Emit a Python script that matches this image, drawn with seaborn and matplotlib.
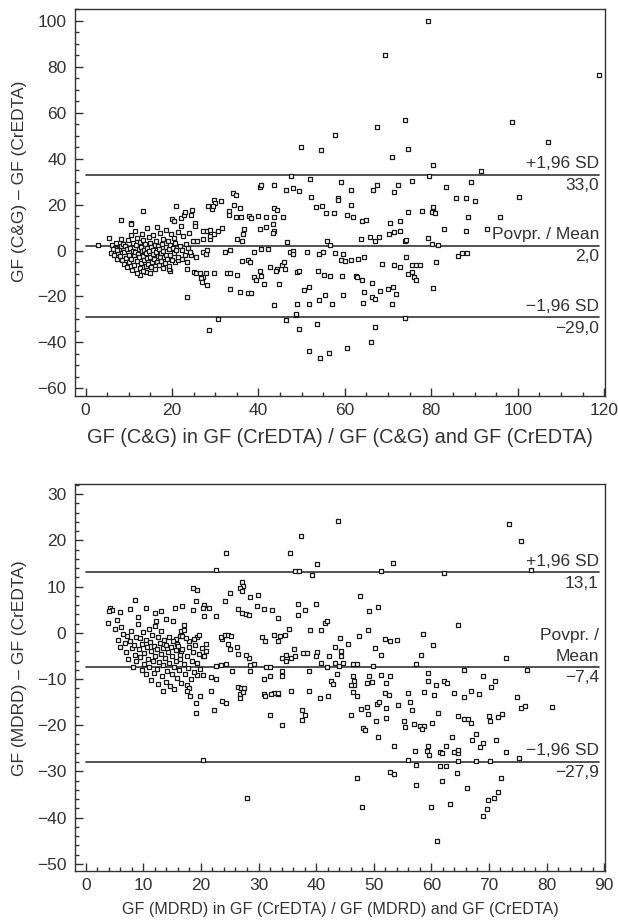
import matplotlib
matplotlib.use("Agg")
import matplotlib.pyplot as plt
from matplotlib.ticker import MultipleLocator
import seaborn as sns
import pandas as pd

# ---------------- data: panel 1 (C&G vs CrEDTA) ----------------
cg_mean = [
    79.2, 69.3, 118.7, 67.5, 73.8, 57.7, 98.6, 107.0, 49.9, 54.5, 70.8, 74.5, 80.3, 91.5, 47.6, 79.4,
    52.0, 59.1, 75.6, 89.3, 40.3, 40.5, 43.6, 46.3, 47.9, 49.5, 61.4, 66.4, 67.5, 71.3, 72.4, 83.3,
    85.7, 88.1, 90.1, 100.3, 52.2, 58.3, 58.3, 34.2, 34.8, 29.8, 29.9, 31.3, 28.4, 29.2, 29.6, 20.9,
    13.3, 34.3, 35.7, 53.4, 54.8, 55.6, 57.5, 61.4, 60.4, 61.8, 63.9, 65.0, 74.7, 77.9, 80.4, 80.3,
    80.2, 80.8, 88.6, 95.9, 70.4, 72.7, 45.7, 43.5, 44.2, 43.6, 41.7, 39.9, 37.8, 38.3, 33.1, 33.3,
    34.9, 36.0, 8.2, 10.4, 20.0, 20.4, 22.0, 22.8, 23.1, 24.4, 24.7, 25.4,
    2.9, 5.5, 6.1, 6.9, 8.2, 10.5, 7.3, 12.6, 14.0, 19.5, 19.2, 20.7, 21.3, 22.4, 23.4, 23.5, 23.4,
    25.0, 25.5, 26.4, 27.8, 27.2, 28.2, 26.6, 26.9, 24.5, 25.5, 27.1, 27.8, 28.0,
    24.9, 25.8, 27.1, 28.7, 28.9, 29.8, 25.3, 27.1, 28.0, 28.9, 30.7, 31.5,
    28.6, 30.7, 29.8, 32.7, 33.4, 35.0, 33.4, 35.7, 37.6, 38.2,
    32.3, 33.4, 35.1, 36.2, 36.5, 36.6, 36.2, 37.6, 38.0,
    38.9, 39.4, 41.2, 40.7, 40.3, 42.6, 44.4, 44.0,
    38.9, 40.7, 42.1, 40.3, 41.7, 43.3, 43.5, 43.3,
    43.6, 44.8, 45.4, 45.8, 46.2, 46.7, 47.2, 47.9, 48.1,
    46.3, 48.6, 48.6, 49.0, 49.5, 49.5, 49.0,
    51.6, 54.3, 56.3, 53.6, 60.5, 66.0, 66.9,
    51.8, 53.9, 55.4, 57.0, 50.5, 51.6,
    59.5, 64.3, 64.4, 66.2, 66.9, 66.2, 68.2, 70.0, 71.2, 71.9, 71.0, 73.8,
    51.3, 54.0, 54.9, 55.8, 56.6, 57.7, 59.6,
    53.7, 55.1, 56.5, 59.3, 62.5, 62.9, 63.9,
    59.1, 60.0, 61.4, 63.1, 64.4,
    63.8, 65.9, 66.9, 67.8, 70.1, 71.4, 72.8, 73.8, 74.2, 74.2,
    68.7, 71.4, 72.8, 75.6, 76.5, 77.4, 74.7, 76.1, 75.6, 76.5,
    80.3, 79.2, 80.1, 81.5, 81.1, 82.9, 88.0, 93.0, 86.1, 87.0, 88.2,
    7.5, 7.8, 8.0, 8.3, 8.5, 8.7, 8.9, 9.0, 9.2, 9.4, 9.5, 9.7, 9.8, 10.0, 10.1, 10.3, 10.4, 10.6,
    10.7, 10.9, 11.0, 11.1, 11.3, 11.4, 11.5, 11.7, 11.8, 11.9, 12.0, 12.1, 12.3, 12.4, 12.5, 12.6,
    12.8, 12.9, 13.0, 13.1, 13.2, 13.3, 13.4, 13.5, 13.6, 13.8, 13.9, 14.0, 14.1, 14.2, 14.3, 14.5,
    14.6, 14.7, 14.8, 14.9, 15.0, 15.1, 15.2, 15.4, 15.5, 15.6, 15.7, 15.8, 16.0, 16.1, 16.2, 16.3,
    16.5, 16.6, 16.7, 16.8, 16.9, 17.0, 17.2, 17.3, 17.4, 17.5, 17.7, 17.8, 17.9, 18.0, 18.2, 18.3,
    18.5, 18.6, 18.7, 18.9, 19.0, 19.2, 19.3, 19.5, 19.6, 19.8, 20.0, 20.2, 20.4, 20.5, 20.8, 21.0,
    21.3, 21.5, 21.8, 22.0, 22.3, 22.6, 23.0, 23.2, 23.6, 24.0, 24.2,
    5.9, 6.3, 6.6, 7.0, 7.2,
]
cg_diff = [
    100.0, 85.2, 76.4, 53.9, 56.7, 50.4, 56.1, 47.1, 44.9, 43.8, 40.7, 44.3, 37.4, 34.8, 32.5, 32.5,
    31.2, 29.7, 30.4, 29.7, 27.5, 28.3, 28.3, 26.4, 27.2, 25.8, 26.4, 26.4, 28.3, 25.5, 28.3, 27.5,
    22.8, 23.0, 21.6, 23.5, 23.2, 23.0, 22.2, 25.2, 24.3, 22.2, 20.7, 21.7, 19.3, 18.2, 19.3, 19.3,
    17.4, 19.6, 18.6, 18.8, 19.4, 16.4, 16.4, 20.0, 15.5, 14.8, 12.9, 13.2, 16.7, 17.0, 19.1, 17.4,
    16.7, 16.4, 14.8, 14.8, 12.0, 12.8, 14.5, 18.6, 17.7, 14.5, 14.5, 15.2, 15.2, 14.1, 17.0, 15.3,
    14.8, 14.5, 13.5, 12.0, 13.8, 12.9, 14.2, 15.6, 16.6, 15.6, 17.7, 12.0,
    2.2, 5.4, 2.2, 1.2, 5.1, 11.6, -3.6, -10.6, -9.4, -9.1, -8.0, -5.0, -4.0, -3.9, -5.0, -8.0, -20.2,
    -9.5, -9.8, -9.7, -9.8, -11.7, -15.0, -12.0, -13.8, -2.0, -2.6, -0.7, -1.4, 0.3,
    4.3, 4.3, 5.1, 4.9, 6.5, 7.2, 10.8, 8.7, 8.4, 9.0, 8.7, 10.0,
    -34.7, -29.9, -9.7, -9.8, -9.8, -10.8, -16.6, -18.0, -18.5, -18.5,
    -0.7, 0.3, 5.1, 4.3, 7.2, 9.4, -4.6, -4.0, -5.0,
    -11.6, -13.0, -14.5, -11.0, -8.7, -7.2, -7.9, -9.1,
    -0.7, 0.7, 0.7, 9.4, 10.1, 11.6, 8.7, 7.5,
    -23.9, -14.5, -6.5, -5.0, -8.0, 3.6, -0.7, -0.3, -1.5,
    -30.4, -28.2, -27.5, -9.4, -8.7, -34.3, -23.4,
    -43.7, -46.6, -44.4, -32.1, -42.2, -40.0, -33.3,
    -23.4, -21.7, -19.5, -23.1, -17.0, -15.9,
    -19.5, -22.8, -18.0, -20.2, -21.2, -14.1, -17.6, -16.9, -15.9, -18.9, -23.1, -29.2,
    -0.7, -1.5, -0.7, 4.3, 2.2, -1.2, -1.5,
    -8.7, -10.6, -10.9, -10.9, -10.9, -11.6, -13.0,
    -4.0, -4.6, -4.3, -3.6, -2.9,
    5.1, 5.8, 4.3, 6.1, 7.2, 7.9, 8.7, 4.3, 4.6, -2.6,
    -5.8, -6.5, -7.2, -6.5, -6.5, -6.5, -10.1, -11.6, -9.4, -13.0,
    -16.3, 5.5, 2.9, 2.2, -5.0, 9.4, 8.7, 9.4, -2.2, -1.2, -1.0,
    -1.0, 0.5, -2.5, 1.8, -4.0, 3.0, -0.5, -6.0, 2.0, -3.2, 0.8, -7.2, 4.5, -1.8, -5.0, 1.2, 6.8, -3.8,
    -8.5, 0.0, 3.2, -2.0, -6.3, 8.5, -0.8, 2.4, -4.6, -9.8, 5.4, -1.4, 0.6, -3.0, -7.6, 3.8,
    -5.4, 1.6, -0.4, 7.4, -2.4, -8.8, 4.6, -4.2, 0.2, 2.8, -6.8, -1.2, 9.6, -3.4, 1.0, -5.8,
    5.8, -0.2, -9.8, 3.4, -2.6, -7.2, 1.4, -4.8, 6.6, -1.6, 0.4, -3.6, 2.2, -8.0, -0.6, 4.2,
    -5.2, 10.4, -2.2, 1.8, -6.4, 0.8, -3.0, 7.8, -1.0, -4.4, 3.0, -7.4, 0.0, 5.2, -2.8, -5.6,
    1.6, 9.0, -1.8, -3.8, 4.0, 0.6, -6.6, 2.6, -2.0, 7.0, -4.2, 1.0, 5.6, -1.2, 3.4, 0.2,
    8.2, -2.8, 2.0, 10.6, 0.4, 6.2, -1.8, 3.0, 1.2, 7.8, -0.8,
    -1.0, 0.8, -2.0, 3.4, 0.2,
]

# ---------------- data: panel 2 (MDRD vs CrEDTA) ----------------
md_mean = [
    43.8, 73.5, 75.6, 37.3, 24.4, 35.4, 40.2, 53.3, 22.7, 36.4, 37.0, 39.2, 51.3, 62.2, 77.3, 47.6,
    18.6, 19.4, 27.1, 27.3, 26.8, 27.1, 25.1, 28.5, 29.9, 24.2, 19.1, 20.6, 21.4, 8.6, 4.3, 4.6, 4.1,
    3.9, 7.6, 10.5, 12.0, 13.1, 15.5, 16.7, 18.6, 20.3, 20.6, 22.7, 26.5, 27.1, 27.8, 28.4, 29.8,
    30.9, 32.3, 33.3, 36.8, 36.8, 38.1, 39.9, 49.1, 50.7, 64.6, 41.6, 41.9, 40.9, 39.0, 35.3, 34.6,
    33.7, 32.6, 30.6, 31.1, 33.3, 49.0, 47.4, 44.2, 43.3, 44.3, 45.6, 44.4, 44.6, 50.2, 51.3, 51.9,
    52.9, 54.0, 58.6, 60.3, 58.2, 57.3, 65.6, 72.9, 76.6, 69.0, 71.1, 70.4, 59.5, 59.5, 60.8, 62.2,
    62.7, 52.9, 52.2, 51.2, 49.7, 49.1, 48.8, 46.4, 47.1, 46.4, 46.6, 46.6, 46.1, 49.8,
    42.3, 43.3, 44.0, 43.6, 42.6, 42.9, 40.2, 39.9, 38.5, 37.8, 36.1, 34.7, 34.0, 34.7, 35.7, 36.4,
    40.9, 41.9, 38.8, 34.0, 32.0, 31.3, 32.0, 30.9, 34.0, 32.6, 33.3, 30.9,
    29.2, 28.5, 28.4, 27.8, 26.5, 26.3, 25.1, 24.7, 23.7, 23.4, 24.1, 24.7, 25.2,
    22.7, 23.4, 24.4, 25.4, 28.5, 26.5, 26.9, 27.5, 20.9, 20.9, 20.3, 20.6,
    19.3, 19.7, 18.8, 17.9, 16.5, 17.0, 16.3, 16.8, 15.6, 15.8, 16.5, 16.3,
    21.7, 22.7, 19.3, 20.3, 17.5, 17.9,
    13.4, 17.5, 18.1, 19.9, 21.7, 19.2, 19.2, 22.3, 23.7, 24.3, 20.3, 26.7, 26.8, 27.3, 28.0, 31.1,
    32.1, 33.3, 32.0, 34.0, 35.7, 38.7, 40.7, 42.1, 37.5, 37.6, 38.1, 46.0, 46.4, 47.1, 47.8, 48.8,
    49.0, 48.1, 48.5, 50.4, 50.5, 50.9, 51.9, 52.6, 52.2, 52.2, 54.2, 55.3, 55.4, 56.3, 56.7, 57.0,
    58.0, 58.8, 58.4, 60.1, 50.7, 53.5, 56.0, 57.4, 57.1, 59.2, 59.5, 59.6, 61.2, 61.5, 61.9, 62.5,
    63.6, 63.9, 64.6, 64.6, 61.5, 62.5, 61.9, 64.6, 64.5, 66.2, 63.2, 60.0, 52.8, 53.5, 57.4, 47.9,
    47.1, 61.0, 64.6, 65.6, 66.3, 66.9, 65.6, 68.3, 67.0, 67.7, 68.4, 69.0, 67.7, 70.1, 70.0, 70.2,
    71.5, 72.2, 71.3, 72.1, 72.9, 69.8, 70.8, 71.5, 69.6, 68.9, 75.3, 74.8, 75.6, 76.2, 80.9, 56.0,
    58.8, 60.5, 63.9, 66.8,
    5.6, 5.9, 6.2, 5.1, 6.8, 7.0, 7.2, 7.4, 7.6, 7.8, 8.0, 8.2, 8.3, 8.5, 8.7, 8.8, 9.0, 9.1, 9.2,
    9.4, 9.5, 9.7, 9.8, 10.0, 10.1, 10.2, 10.4, 10.5, 10.6, 10.8, 10.9, 11.0, 11.2, 11.3, 11.4, 11.5,
    11.7, 11.8, 11.9, 12.0, 12.1, 12.3, 12.4, 12.5, 12.6, 12.8, 12.9, 13.0, 13.1, 13.2, 13.4, 13.5,
    13.6, 13.7, 13.9, 14.0, 14.1, 14.2, 14.4, 14.5, 14.6, 14.8, 14.9, 15.0, 15.1, 15.3, 15.4, 15.6,
    15.7, 15.9, 16.0, 16.2, 16.4, 16.6, 16.8, 17.0, 17.2, 17.4, 17.6, 17.8, 18.0, 18.2, 18.4, 18.6,
    18.8, 19.0, 19.3, 19.6, 19.9, 20.2, 5.4, 6.0, 6.5, 15.2, 13.9, 12.2, 17.1,
]
md_diff = [
    24.1, 23.5, 19.9, 20.9, 17.3, 17.3, 15.0, 15.2, 13.6, 13.3, 13.3, 12.5, 13.3, 13.0, 13.6, 8.0,
    9.6, 9.3, 10.9, 10.1, 9.8, 9.0, 8.6, 7.8, 8.2, 6.9, 6.9, 6.0, 5.4, 7.2, 5.4, 4.9, 4.7,
    2.2, 5.2, 5.3, 4.3, 4.7, 5.3, 5.7, 5.0, 5.3, 3.6, 3.6, 5.1, 4.3, 4.1, 3.8, 5.9,
    5.1, 4.9, 3.3, 6.2, 3.8, 4.9, 6.2, 4.7, 5.6, 1.7, 2.2, 2.5, 0.7, 0.7, 0.9, -0.4,
    -0.7, -0.4, -0.9, -1.8, -1.8, 0.6, -0.7, -1.2, -3.1, -4.0, -2.5, -5.1, -6.5, -3.3, -4.7, -1.4,
    -1.8, -1.6, -0.2, -2.7, -4.9, -6.7, -8.0, -5.4, -8.0, -9.4, -10.5, -11.8, -8.7, -10.5, -11.2, -10.5,
    -10.9, -9.4, -10.9, -9.1, -10.7, -9.4, -10.9, -6.7, -6.8, -9.4, -10.5, -11.2, -11.2, -7.2,
    -5.1, -6.5, -7.2, -9.0, -10.5, -11.0, -4.2, -5.1, -4.3, -4.3, -3.6, -4.7, -5.5, -6.0, -5.5, -5.1,
    -6.5, -7.5, -8.3, -8.3, -7.4, -7.4, -9.4, -10.1, -9.4, -13.0, -13.2, -13.3,
    -6.7, -6.9, -5.4, -4.7, -4.6, -3.1, -3.4, -2.5, -1.4, -0.9, -0.4, -0.4, -0.7,
    -7.2, -7.0, -6.8, -8.3, -8.3, -11.8, -11.9, -11.9, -2.4, -4.0, -5.1, -5.1,
    -0.9, -0.4, -1.4, -1.8, 0.4, 0.7, -0.7, -0.7, -1.4, -2.4, -4.0, -4.7,
    -9.5, -10.0, -9.1, -9.1, -11.2, -11.9,
    -12.6, -12.6, -13.7, -13.7, -12.6, -15.2, -17.3, -16.7, -14.7, -15.2, -27.6, -13.3, -14.1, -12.9, -35.8, -13.6,
    -13.3, -13.1, -17.8, -20.0, -12.6, -12.6, -14.2, -13.6, -16.7, -18.9, -17.8, -17.8, -12.9, -13.6, -16.4, -16.0,
    -17.6, -20.5, -21.1, -19.0, -15.5, -15.0, -13.0, -13.5, -16.2, -18.4, -15.6, -19.0, -20.4, -15.0, -16.8, -19.8,
    -20.1, -20.1, -20.8, -19.6, -22.5, -24.6, -27.5, -28.6, -25.6, -25.6, -24.6, -26.4, -17.3, -25.7, -26.1, -24.5,
    -22.5, -25.8, -26.0, -25.3, -28.8, -28.8, -32.1, -27.7, -30.4, -33.5, -37.1, -37.6, -30.1, -30.6, -33.0, -37.6,
    -31.5, -45.1, -18.0, -18.7, -18.7, -19.6, -13.9, -13.3, -23.2, -22.0, -24.8, -23.8, -27.7, -27.7, -18.0, -19.0,
    -18.3, -17.6, -23.2, -31.5, -25.8, -36.1, -35.7, -34.5, -38.2, -39.7, -27.2, -14.0, -16.3, -15.8, -16.0, -13.0,
    -12.8, -13.4, -13.0, -12.5,
    -1.5, -3.0, 1.3, 0.8, -2.2, -4.2, -0.6, -5.6, -1.8, 0.4, -3.2, -7.5, -2.6, -4.8, -0.9, -6.2, 1.8, 3.5, -3.6,
    -1.2, -5.2, -8.0, -2.4, 0.2, -4.4, -6.8, -1.6, -9.0, -3.0, -5.6, 0.8, -7.4, -2.0, -4.0, -10.2, -0.4,
    -6.0, -8.6, -2.8, 1.4, -5.0, -3.6, -7.8, -1.0, -11.0, -6.4, -2.2, -4.6, 0.4, -9.4, -3.2, -7.0,
    -1.6, -5.4, -10.6, -2.6, -8.2, -4.2, -0.8, -6.6, -11.6, -3.0, -9.0, -5.0, -1.8, -7.4, -12.2, -3.8,
    -6.2, -9.8, -2.8, -8.0, -5.6, -10.8, -3.4, -6.8, -9.0, -1.2, -5.0, -7.6, -3.0, -10.0, -6.0, -4.2,
    -8.4, -2.6, -6.6, -4.6, -7.8, -3.2, 2.8, 4.4, -0.2, 2.6, 3.0, 2.6, 1.6,
]

# reference lines (mean and limits of agreement)
cg_lines = [33.0, 2.0, -29.0]
cg_line_labels = [("+1,96 SD", "33,0"), ("Povpr. / Mean", "2,0"), ("\u22121,96 SD", "\u221229,0")]
md_lines = [13.1, -7.4, -27.9]
md_line_labels = [("+1,96 SD", "13,1"), ("Povpr. /\nMean", "\u22127,4"), ("\u22121,96 SD", "\u221227,9")]

cg_xticks = [0, 20, 40, 60, 80, 100, 120]
cg_yticks = [-60, -40, -20, 0, 20, 40, 60, 80, 100]
md_xticks = [0, 10, 20, 30, 40, 50, 60, 70, 80, 90]
md_yticks = [-50, -40, -30, -20, -10, 0, 10, 20, 30]

df1 = pd.DataFrame({"m": cg_mean, "d": cg_diff})
df2 = pd.DataFrame({"m": md_mean, "d": md_diff})

sns.set_style("white")
plt.rcParams["font.family"] = ["Liberation Sans", "DejaVu Sans"]
INK = "#333333"
plt.rcParams.update({
    "axes.edgecolor": INK, "axes.linewidth": 1.0,
    "xtick.color": INK, "ytick.color": INK,
    "text.color": INK, "axes.labelcolor": INK,
})

fig = plt.figure(figsize=(6.18, 9.22), dpi=100)
ax1 = fig.add_axes([0.121, 0.5705, 0.858, 0.4195])
ax2 = fig.add_axes([0.121, 0.0556, 0.858, 0.4194])

def panel(ax, df, lines, labels, xlim, ylim, xticks, yticks, xminor, yminor,
          xlabel, ylabel, xlfs, line_end, ylab_y):
    sns.scatterplot(data=df, x="m", y="d", ax=ax, marker="s", s=10,
                    facecolor="white", edgecolor="#1a1a1a", linewidth=0.9, legend=False, zorder=3)
    ax.set_xlim(*xlim)
    ax.set_ylim(*ylim)
    ax.set_xticks(xticks)
    ax.set_yticks(yticks)
    ax.xaxis.set_minor_locator(MultipleLocator(xminor))
    ax.yaxis.set_minor_locator(MultipleLocator(yminor))
    ax.tick_params(which="both", bottom=True, left=True, top=False, right=False, direction="in", width=1.0)
    ax.tick_params(which="major", length=6, labelsize=12.5)
    ax.tick_params(axis="y", which="major", pad=6)
    ax.tick_params(axis="x", which="major", pad=5)
    ax.tick_params(which="minor", length=3)
    for v, (above, below) in zip(lines, labels):
        ax.plot([0, line_end], [v, v], color=INK, lw=1.2, zorder=2)
        ax.annotate(above, xy=(line_end, v), xytext=(0, 2.5), textcoords="offset points",
                    ha="right", va="bottom", fontsize=12.5, color=INK, linespacing=1.5)
        ax.annotate(below, xy=(line_end, v), xytext=(0, -2.5), textcoords="offset points",
                    ha="right", va="top", fontsize=12.5, color=INK)
    ax.set_xlabel(xlabel, fontsize=xlfs, labelpad=7)
    ax.set_ylabel(ylabel, fontsize=12.5)
    ax.yaxis.set_label_coords(-0.09, ylab_y)
    for sp in ax.spines.values():
        sp.set_visible(True)
        sp.set_color(INK)

panel(ax1, df1, cg_lines, cg_line_labels, (-2.5, 120.2), (-63.3, 105), cg_xticks, cg_yticks, 5, 5,
      "GF (C&G) in GF (CrEDTA) / GF (C&G) and GF (CrEDTA)", "GF (C&G) \u2013 GF (CrEDTA)", 14.4, 118.8, 0.555)
panel(ax2, df2, md_lines, md_line_labels, (-1.9, 90.15), (-51.5, 32.2), md_xticks, md_yticks, 2, 2,
      "GF (MDRD) in GF (CrEDTA) / GF (MDRD) and GF (CrEDTA)", "GF (MDRD) \u2013 GF (CrEDTA)", 11.6, 89.1, 0.525)

fig.savefig("out.png", dpi=100, facecolor="white")
